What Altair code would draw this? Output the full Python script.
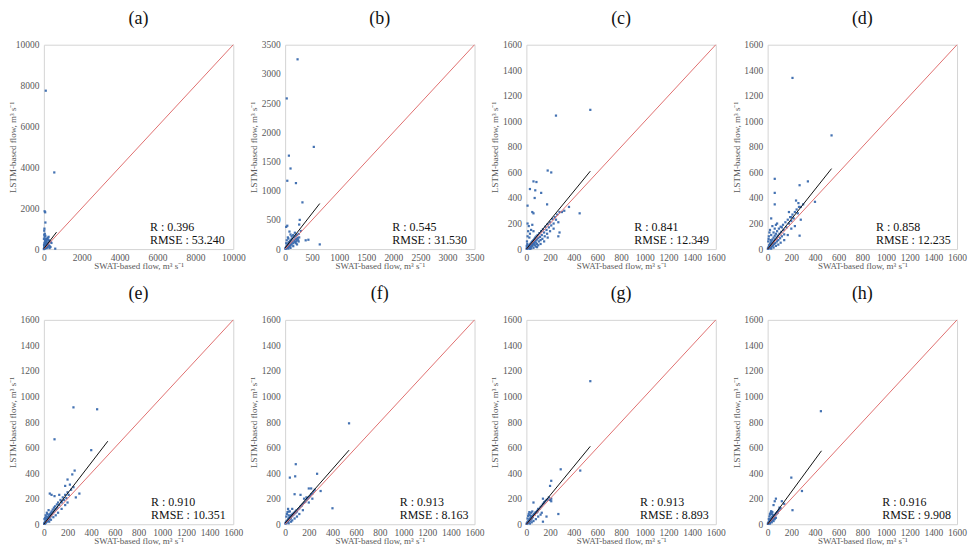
import altair as alt
import pandas as pd

FONT = "Liberation Serif"

panel_labels = ["(a)", "(b)", "(c)", "(d)", "(e)", "(f)", "(g)", "(h)"]
axis_max = [10000, 3500, 1600, 1600, 1600, 1600, 1600, 1600]
tick_step = [2000, 500, 200, 200, 200, 200, 200, 200]
r_values = ["0.396", "0.545", "0.841", "0.858", "0.910", "0.913", "0.913", "0.916"]
rmse_values = ["53.240", "31.530", "12.349", "12.235", "10.351", "8.163", "8.893", "9.908"]

# regression line end points (SWAT, LSTM)
reg_start = [(0, 20), (0, 20), (0, 0), (0, 0), (0, 0), (0, 10), (0, 0), (0, 0)]
reg_end = [(670, 830), (640, 780), (540, 610), (540, 630), (540, 650), (540, 580), (540, 610), (455, 575)]

# (SWAT-based flow, LSTM-based flow)
points_a = [
    (0, 0), (10, 30), (20, 60), (30, 100), (40, 150), (50, 200), (60, 250), (80, 300), (100, 350),
    (120, 400), (150, 450), (180, 500), (200, 550), (250, 600), (20, 700), (50, 750), (80, 650),
    (100, 500), (150, 300), (200, 250), (250, 200), (300, 150), (350, 100), (400, 300), (300, 400),
    (60, 400), (30, 300), (10, 200), (5, 500), (40, 600), (120, 200), (200, 100), (150, 50), (100, 80),
    (70, 30), (300, 50), (600, 20), (350, 350), (250, 450), (180, 150), (90, 120), (130, 90), (60, 60),
    (20, 20), (160, 220), (220, 330),
    (100, 7750), (550, 3750), (40, 1850), (70, 1800), (80, 1300), (30, 1000), (20, 900),
]
points_b = [
    (5, 5), (10, 20), (15, 10), (20, 35), (25, 15), (30, 50), (35, 25), (40, 65), (45, 30), (50, 80),
    (55, 45), (60, 100), (65, 55), (70, 120), (75, 70), (80, 40), (90, 140), (95, 90), (100, 60),
    (110, 160), (115, 110), (120, 80), (130, 180), (140, 130), (150, 100), (160, 200), (170, 150),
    (180, 120), (190, 220), (200, 170), (210, 140), (220, 240), (230, 190), (240, 160), (250, 260),
    (260, 200), (150, 240), (100, 250), (80, 300), (50, 200), (30, 150), (20, 100), (60, 180),
    (120, 220), (180, 280), (200, 100), (250, 130), (220, 80), (150, 50), (100, 20), (60, 10),
    (230, 3250), (30, 2580), (530, 1750), (70, 1600), (100, 1380), (40, 1170), (200, 1130), (320, 800),
    (640, 80), (430, 160), (380, 150), (270, 500), (260, 420), (40, 400), (20, 380), (290, 310),
]
points_c = [
    (2, 3), (5, 8), (8, 4), (10, 12), (12, 6), (15, 18), (18, 10), (20, 25), (22, 14), (25, 30),
    (28, 20), (30, 12), (32, 38), (35, 26), (38, 45), (40, 18), (42, 32), (45, 55), (48, 40), (50, 25),
    (52, 62), (55, 48), (58, 35), (60, 70), (62, 55), (65, 42), (68, 80), (70, 60), (72, 30), (75, 90),
    (78, 68), (80, 50), (85, 100), (88, 75), (90, 40), (95, 110), (100, 85), (105, 60), (110, 125),
    (115, 95), (120, 70), (125, 140), (130, 110), (135, 80), (140, 155), (150, 130), (155, 100),
    (160, 175), (170, 150), (175, 120), (180, 195), (190, 170), (200, 210), (210, 185), (220, 235),
    (230, 200), (240, 250), (250, 230), (260, 270), (270, 210), (280, 290),
    (5, 60), (10, 100), (15, 140), (20, 180), (10, 200), (30, 120), (40, 150), (25, 90), (50, 190),
    (60, 140), (8, 40), (3, 25),
    (40, 5), (60, 10), (80, 20), (100, 30), (120, 40), (150, 60), (30, 2), (90, 15), (180, 90),
    (200, 140), (230, 160), (280, 130),
    (540, 1090), (250, 1045), (180, 615), (210, 600), (60, 530), (85, 525), (30, 470), (75, 460),
    (125, 440), (70, 400), (175, 350), (50, 290), (60, 280), (10, 340), (450, 280), (270, 100),
    (360, 330), (300, 290), (320, 300),
]
points_d = [
    (2, 2), (5, 10), (8, 5), (10, 15), (12, 30), (15, 8), (18, 22), (20, 40), (22, 12), (25, 50),
    (28, 30), (30, 18), (32, 60), (35, 40), (38, 25), (40, 75), (42, 50), (45, 30), (50, 90), (52, 62),
    (55, 40), (60, 105), (62, 75), (65, 48), (70, 120), (75, 90), (78, 60), (80, 140), (85, 105),
    (90, 70), (95, 160), (100, 120), (105, 85), (110, 175), (115, 135), (120, 100), (130, 190),
    (135, 150), (140, 115), (150, 210), (160, 170), (170, 230), (180, 200), (190, 250), (200, 220),
    (210, 270), (220, 240), (230, 290), (245, 310), (255, 280), (265, 330),
    (5, 60), (10, 100), (15, 130), (20, 150), (30, 110), (40, 180), (50, 130), (8, 80), (25, 70),
    (60, 160), (70, 190),
    (30, 3), (50, 12), (70, 25), (90, 35), (110, 50), (140, 70), (170, 110), (200, 160), (230, 180),
    (280, 230),
    (210, 1340), (540, 890), (60, 550), (60, 440), (60, 350), (340, 530), (270, 500), (400, 370),
    (270, 105), (240, 380), (260, 360), (280, 330), (300, 350), (200, 250), (180, 290), (30, 240),
    (80, 200), (120, 170),
]
points_e = [
    (2, 3), (5, 10), (8, 5), (10, 18), (12, 8), (15, 25), (18, 14), (20, 32), (22, 18), (25, 40),
    (28, 24), (30, 48), (32, 30), (35, 55), (38, 35), (40, 62), (42, 42), (45, 70), (48, 48), (50, 78),
    (55, 60), (58, 88), (60, 70), (65, 100), (70, 80), (75, 115), (80, 95), (85, 130), (90, 108),
    (95, 140), (100, 118), (110, 155), (115, 130), (120, 170), (130, 150), (140, 190), (150, 170),
    (160, 210), (170, 190), (180, 230), (190, 205), (200, 250), (210, 230), (230, 270), (250, 290),
    (10, 50), (15, 70), (20, 60), (5, 40), (25, 90), (30, 80), (40, 110), (45, 20), (60, 35), (80, 55),
    (100, 70), (120, 90), (150, 120), (180, 150), (200, 170),
    (250, 915), (450, 900), (90, 665), (400, 580), (260, 420), (240, 390), (200, 350), (220, 310),
    (180, 300), (50, 240), (65, 230), (90, 220), (270, 210), (130, 230), (150, 180), (300, 240),
]
points_f = [
    (2, 5), (5, 12), (8, 8), (10, 20), (12, 12), (15, 25), (18, 18), (20, 30), (22, 22), (25, 38),
    (28, 28), (30, 45), (32, 34), (35, 50), (38, 40), (40, 58), (42, 45), (45, 62), (48, 50), (50, 70),
    (55, 62), (58, 75), (60, 66), (65, 82), (70, 75), (75, 90), (80, 85), (85, 98), (90, 92), (95, 108),
    (100, 100), (110, 118), (120, 125), (130, 138), (140, 145), (150, 158), (160, 168), (170, 175),
    (180, 190), (190, 200), (200, 210), (210, 220), (220, 235), (230, 240), (240, 255),
    (10, 60), (15, 80), (20, 95), (25, 120), (30, 70), (40, 100), (30, 8), (50, 20), (60, 30), (80, 45),
    (100, 60), (120, 80), (150, 110), (200, 170), (230, 200),
    (540, 790), (90, 470), (40, 365), (85, 375), (270, 395), (400, 125), (80, 235), (130, 230),
    (220, 280), (250, 270), (300, 260), (200, 280), (180, 210), (160, 200), (60, 120), (30, 100),
]
points_g = [
    (2, 3), (5, 10), (8, 6), (10, 16), (12, 10), (15, 22), (18, 15), (20, 28), (22, 18), (25, 35),
    (28, 25), (30, 42), (32, 30), (35, 48), (38, 36), (40, 55), (42, 42), (45, 60), (48, 48), (50, 66),
    (55, 58), (60, 72), (65, 80), (70, 75), (75, 88), (80, 95), (85, 90), (90, 105), (95, 100),
    (100, 115), (110, 120), (120, 135), (130, 145), (140, 160), (150, 170), (160, 180), (170, 190),
    (180, 195), (190, 210), (200, 190), (210, 200),
    (10, 45), (15, 65), (20, 80), (25, 95), (30, 70), (40, 90), (50, 100), (30, 5), (45, 15), (60, 25),
    (80, 40), (100, 60), (120, 75),
    (540, 1120), (290, 430), (455, 420), (210, 340), (200, 300), (140, 200), (270, 80), (150, 170),
    (130, 90), (60, 170), (210, 180), (140, 20), (200, 190), (100, 120), (80, 90), (170, 60),
]
points_h = [
    (2, 3), (4, 8), (6, 5), (8, 14), (10, 9), (12, 20), (14, 12), (16, 26), (18, 16), (20, 32),
    (22, 20), (25, 38), (28, 26), (30, 44), (32, 30), (35, 50), (38, 36), (40, 56), (42, 40), (45, 62),
    (48, 46), (50, 68), (55, 55), (60, 75), (65, 70), (70, 85), (75, 80), (80, 95), (85, 90), (90, 105),
    (100, 115), (110, 125),
    (10, 40), (15, 60), (20, 75), (25, 90), (30, 100), (35, 80), (40, 95), (45, 70), (20, 5), (35, 15),
    (50, 25), (60, 40), (70, 50),
    (450, 885), (200, 365), (210, 110), (290, 260), (70, 200), (60, 180), (50, 150), (100, 130),
    (120, 180), (140, 160), (30, 100), (20, 80),
]
all_points = [points_a, points_b, points_c, points_d, points_e, points_f, points_g, points_h]

# annotation placement as fraction of axis range
text_x_frac = [0.56, 0.566, 0.57, 0.572, 0.566, 0.605, 0.60, 0.605]
text_y_frac = [0.107, 0.043]

AXIS_X_TITLE = "SWAT-based flow, m³ s⁻¹"
AXIS_Y_TITLE = "LSTM-based flow, m³ s⁻¹"


def panel(i):
    m = axis_max[i]
    ticks = list(range(0, m + 1, tick_step[i]))
    xenc = alt.X("swat:Q", scale=alt.Scale(domain=[0, m], nice=False, zero=True),
                 axis=alt.Axis(title=AXIS_X_TITLE, values=ticks, format="d",
                               labelOverlap=False, labelFlush=False))
    yenc = alt.Y("lstm:Q", scale=alt.Scale(domain=[0, m], nice=False, zero=True),
                 axis=alt.Axis(title=AXIS_Y_TITLE, values=ticks, format="d",
                               labelOverlap=False, labelFlush=False))
    pts = pd.DataFrame(all_points[i], columns=["swat", "lstm"])
    scatter = alt.Chart(pts).mark_square(size=5, color="#3a6aae", opacity=0.95).encode(x=xenc, y=yenc)
    diag = alt.Chart(pd.DataFrame({"swat": [0, m], "lstm": [0, m]})).mark_line(
        color="#e07070", strokeWidth=1
    ).encode(x=xenc, y=yenc)
    (x0, y0), (x1, y1) = reg_start[i], reg_end[i]
    reg = alt.Chart(pd.DataFrame({"swat": [x0, x1], "lstm": [y0, y1]})).mark_line(
        color="#111111", strokeWidth=1
    ).encode(x=xenc, y=yenc)
    tdf = pd.DataFrame({
        "swat": [text_x_frac[i] * m, text_x_frac[i] * m],
        "lstm": [text_y_frac[0] * m, text_y_frac[1] * m],
        "label": ["R : " + r_values[i], "RMSE : " + rmse_values[i]],
    })
    txt = alt.Chart(tdf).mark_text(
        align="left", baseline="middle", font=FONT, fontSize=12, color="#111111"
    ).encode(x=xenc, y=yenc, text="label:N")
    return alt.layer(scatter, diag, reg, txt).properties(
        width=190,
        height=205,
        title=alt.TitleParams(
            panel_labels[i], font=FONT, fontSize=18, fontWeight="normal", color="#111111", offset=12
        ),
    )


chart = alt.concat(
    *[panel(i) for i in range(8)],
    columns=4,
    spacing=alt.RowColnumber(row=71, column=52),
    bounds="flush",
).properties(
    padding={"left": 8, "top": 8, "right": 5, "bottom": 5}
).configure_view(
    stroke="#d4d4d4", strokeWidth=1
).configure_axis(
    labelFont=FONT, labelFontSize=9.5, labelColor="#595959",
    titleFont=FONT, titleFontSize=9, titleColor="#595959", titleFontWeight="normal",
    ticks=False, tickSize=0, domain=False, grid=False, labelPadding=5,
    labelOverlap=False, labelFlush=False,
).configure_axisY(
    minExtent=23, maxExtent=23, titlePadding=3.5,
).configure_axisX(
    labelPadding=3, titlePadding=0,
)

chart.save("out.html", embed_options={"renderer": "svg", "actions": False})
